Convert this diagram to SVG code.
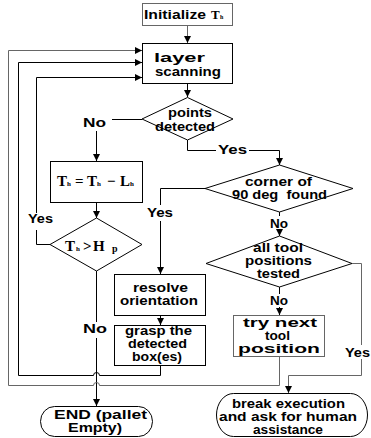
<svg xmlns="http://www.w3.org/2000/svg" width="371" height="438" viewBox="0 0 371 438">
<style>
.t{font-family:"Liberation Sans",Arial,sans-serif;font-size:12px;font-weight:bold;fill:#000}
.m{font-family:"Liberation Serif","Times New Roman",serif;font-weight:bold;fill:#000}
.s{fill:#fff;stroke:#000;stroke-width:1}
.sg{fill:#fff;stroke:#666;stroke-width:1}
.c{fill:none;stroke:#000;stroke-width:1}
.cg{fill:none;stroke:#666;stroke-width:1}
</style>
<defs>
<marker id="ah" markerWidth="7" markerHeight="7" refX="7" refY="3.5" orient="auto" markerUnits="userSpaceOnUse"><path d="M0,0 L7,3.5 L0,7 z" fill="#000"/></marker>
</defs>
<rect width="371" height="438" fill="#fff"/>
<g id="connectors">
<path class="cg" d="M187.5,25.5 V43" marker-end="url(#ah)"/>
<path class="c" d="M187.5,83.5 V97" marker-end="url(#ah)"/>
<path class="c" d="M142,119.5 H112"/>
<path class="c" d="M96.5,131 V161" marker-end="url(#ah)"/>
<path class="c" d="M96.5,202.5 V218" marker-end="url(#ah)"/>
<path class="c" d="M50,244.5 H36.5 V230"/>
<path class="c" d="M36.5,213 V77.5 H142" marker-end="url(#ah)"/>
<path class="c" d="M96.5,271 V322"/>
<path class="c" d="M96.5,338 V406" marker-end="url(#ah)"/>
<path class="c" d="M160.5,365 V375.5 H99.5 A3,3 0 0 0 93.5,375.5 H18.5 V62.5 H142" marker-end="url(#ah)"/>
<path class="cg" d="M279.5,356 V385.5 H99.5 A3,3 0 0 0 93.5,385.5 H8.5 V50.5 H142" marker-end="url(#ah)"/>
<path class="c" d="M187.5,140 V150.5 H216"/>
<path class="c" d="M249,150.5 H279.5 V165" marker-end="url(#ah)"/>
<path class="c" d="M205,188.5 H160.5 V205"/>
<path class="c" d="M160.5,221 V274" marker-end="url(#ah)"/>
<path class="c" d="M279.5,212 V216"/>
<path class="c" d="M279.5,230 V236" marker-end="url(#ah)"/>
<path class="c" d="M160.5,315 V325" marker-end="url(#ah)"/>
<path class="c" d="M279.5,287 V294"/>
<path class="c" d="M279.5,307 V315" marker-end="url(#ah)"/>
<path class="cg" d="M352,263.5 H361.5 V345"/>
<path class="cg" d="M361.5,359 V375.5 H288.5 V393" marker-end="url(#ah)"/>
<text class="t" x="83" y="127" textLength="23" lengthAdjust="spacingAndGlyphs">No</text>
<text class="t" x="218" y="154" textLength="29" lengthAdjust="spacingAndGlyphs">Yes</text>
<text class="t" x="147" y="217" textLength="26" lengthAdjust="spacingAndGlyphs">Yes</text>
<text class="t" x="28" y="223" textLength="25" lengthAdjust="spacingAndGlyphs">Yes</text>
<text class="t" x="270" y="228" textLength="18" lengthAdjust="spacingAndGlyphs">No</text>
<text class="t" x="270" y="305" textLength="18" lengthAdjust="spacingAndGlyphs">No</text>
<text class="t" x="345" y="357" textLength="25" lengthAdjust="spacingAndGlyphs">Yes</text>
<text class="t" x="83" y="333" textLength="24" lengthAdjust="spacingAndGlyphs">No</text>
</g>
<g id="init">
<rect class="sg" x="142.5" y="3.5" width="90" height="22"/>
<text class="t" x="144" y="19" textLength="62" lengthAdjust="spacingAndGlyphs">Initialize</text>
<text class="m" x="211" y="19" font-size="13">T</text>
<text class="m" x="220" y="19" font-size="6">h</text>
</g>
<g id="layer">
<rect class="s" x="142.5" y="43.5" width="90" height="40"/>
<text class="t" x="154" y="62" textLength="51" lengthAdjust="spacingAndGlyphs">layer</text>
<text class="t" x="155" y="76" textLength="66" lengthAdjust="spacingAndGlyphs">scanning</text>
</g>
<g id="points">
<path class="s" d="M187.5,97.5 L233,119 L187.5,140 L142,119 Z"/>
<text class="t" x="168" y="117" textLength="44" lengthAdjust="spacingAndGlyphs">points</text>
<text class="t" x="155" y="131" textLength="60" lengthAdjust="spacingAndGlyphs">detected</text>
</g>
<g id="update">
<rect class="s" x="50.5" y="161.5" width="92" height="41"/>
<text class="m" x="57" y="186" font-size="15">T</text>
<text class="m" x="67" y="186" font-size="7">h</text>
<text class="m" x="75" y="186" font-size="15">=</text>
<text class="m" x="87" y="186" font-size="15">T</text>
<text class="m" x="97" y="186" font-size="7">h</text>
<text class="m" x="107" y="186" font-size="15">−</text>
<text class="m" x="120" y="186" font-size="15">L</text>
<text class="m" x="130" y="186" font-size="7">h</text>
</g>
<g id="compare">
<path class="s" d="M96.5,218 L142,244.5 L96.5,271 L50,244.5 Z"/>
<text class="m" x="65" y="251" font-size="15">T</text>
<text class="m" x="76" y="251" font-size="7">h</text>
<text class="m" x="83" y="251" font-size="15">&gt;</text>
<text class="m" x="93" y="251" font-size="15">H</text>
<text class="m" x="112" y="252" font-size="10">p</text>
</g>
<g id="corner">
<path class="s" d="M279.5,165 L353,188.5 L279.5,212 L205,188.5 Z"/>
<text class="t" x="245" y="186" textLength="67" lengthAdjust="spacingAndGlyphs">corner of</text>
<text class="t" x="232" y="199" textLength="95" lengthAdjust="spacingAndGlyphs" style="white-space:pre">90 deg  found</text>
</g>
<g id="alltool">
<path class="s" d="M279.5,236 L352,263.5 L279.5,287 L206,263.5 Z"/>
<text class="t" x="253" y="252" textLength="50" lengthAdjust="spacingAndGlyphs">all tool</text>
<text class="t" x="245" y="265" textLength="67" lengthAdjust="spacingAndGlyphs">positions</text>
<text class="t" x="257" y="278" textLength="43" lengthAdjust="spacingAndGlyphs">tested</text>
</g>
<g id="resolve">
<rect class="s" x="114.5" y="274.5" width="91" height="41"/>
<text class="t" x="133" y="292" textLength="55" lengthAdjust="spacingAndGlyphs">resolve</text>
<text class="t" x="120" y="305" textLength="78" lengthAdjust="spacingAndGlyphs">orientation</text>
</g>
<g id="grasp">
<rect class="s" x="114.5" y="325.5" width="91" height="40"/>
<text class="t" x="125" y="335" textLength="67" lengthAdjust="spacingAndGlyphs">grasp the</text>
<text class="t" x="128" y="348" textLength="59" lengthAdjust="spacingAndGlyphs">detected</text>
<text class="t" x="132" y="361" textLength="50" lengthAdjust="spacingAndGlyphs">box(es)</text>
</g>
<g id="trynext">
<rect class="sg" x="233.5" y="315.5" width="91" height="41"/>
<text class="t" x="243" y="327" textLength="74" lengthAdjust="spacingAndGlyphs">try next</text>
<text class="t" x="265" y="340" textLength="25" lengthAdjust="spacingAndGlyphs">tool</text>
<text class="t" x="238" y="353" textLength="82" lengthAdjust="spacingAndGlyphs">position</text>
</g>
<g id="end">
<rect class="s" x="40.5" y="406.5" width="112" height="30" rx="14" ry="15"/>
<text class="t" x="54" y="419" textLength="93" lengthAdjust="spacingAndGlyphs">END (pallet</text>
<text class="t" x="68" y="432" textLength="54" lengthAdjust="spacingAndGlyphs">Empty)</text>
</g>
<g id="break">
<rect class="s" x="216.5" y="393.5" width="151" height="43" rx="17" ry="21.5"/>
<text class="t" x="232" y="408" textLength="113" lengthAdjust="spacingAndGlyphs">break execution</text>
<text class="t" x="219" y="421" textLength="138" lengthAdjust="spacingAndGlyphs">and ask for human</text>
<text class="t" x="253" y="434" textLength="70" lengthAdjust="spacingAndGlyphs">assistance</text>
</g>
</svg>
